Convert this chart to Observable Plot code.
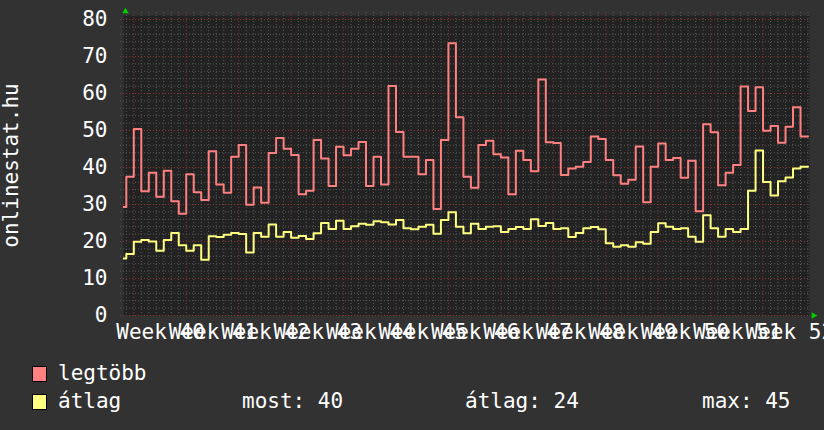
<!DOCTYPE html>
<html><head><meta charset="utf-8">
<script src="https://cdn.jsdelivr.net/npm/d3@7"></script>
<script src="https://cdn.jsdelivr.net/npm/@observablehq/plot@0.6"></script>
<style>
html,body{margin:0;padding:0;background:#323232;}
#wrap{position:relative;width:824px;height:430px;background:#323232;overflow:hidden;font-family:"DejaVu Sans Mono",monospace;color:#fff;}
#chart{position:absolute;left:0;top:0;}
.lg{position:absolute;font-size:21px;line-height:21px;white-space:pre;color:#fff;}
.box{position:absolute;width:13px;height:14px;border:1px solid #000;}
</style></head>
<body><div id="wrap"><div id="chart"></div></div>
<script>
// Day offset of the first value, counted from the Monday that starts Week 40
const firstDay = -2;
const weekNumbers = [40, 41, 42, 43, 44, 45, 46, 47, 48, 49, 50, 51, 52];
const yTicks = [0, 10, 20, 30, 40, 50, 60, 70, 80];
const yAxisLabel = "onlinestat.hu";
const seriesNames = ["legtöbb", "átlag"];
const stats = {most: 40, atlag: 24, max: 45};

// daily maxima ("legtöbb")
const legtobb = [29.3, 37.5, 50.4, 33.6, 38.6, 32.1, 39.1, 30.9, 27.5, 38.2,
  33.3, 31.2, 44.4, 35.4, 33.2, 42.9, 46.1, 29.9, 34.6, 30.5,
  43.9, 48.0, 45.1, 43.4, 32.8, 33.7, 47.4, 42.4, 35.0, 45.6,
  43.3, 45.1, 46.9, 35.0, 42.9, 35.4, 62.0, 49.6, 42.9, 42.9,
  38.2, 42.0, 28.8, 47.4, 73.6, 53.6, 37.5, 34.5, 46.1, 47.2,
  43.6, 42.7, 32.8, 44.5, 42.0, 39.0, 63.8, 46.8, 46.6, 38.0,
  39.7, 40.2, 41.5, 48.4, 47.7, 42.0, 37.9, 35.6, 36.7, 45.7,
  30.6, 40.2, 46.5, 42.0, 42.6, 37.2, 41.8, 28.2, 51.7, 49.5,
  35.2, 38.6, 40.7, 61.9, 55.3, 61.7, 49.9, 51.2, 46.7, 51.0,
  56.3, 48.4];
// daily averages ("átlag")
const atlag = [15.4, 16.6, 19.9, 20.4, 20.0, 17.5, 20.4, 22.3, 19.0, 17.5,
  19.0, 15.1, 21.4, 21.2, 21.8, 22.3, 22.0, 17.0, 22.3, 21.3,
  24.6, 21.3, 22.6, 21.0, 21.5, 20.7, 22.2, 25.0, 23.4, 25.6,
  23.4, 24.1, 24.8, 24.5, 25.5, 25.2, 24.6, 25.8, 23.6, 23.3,
  24.0, 24.5, 22.1, 25.8, 27.9, 24.0, 22.2, 24.8, 23.4, 24.0,
  24.1, 22.6, 23.4, 23.9, 23.4, 26.0, 24.2, 25.0, 23.4, 23.6,
  21.2, 22.3, 23.6, 23.9, 23.3, 19.5, 18.6, 19.0, 18.6, 19.8,
  19.4, 22.6, 24.9, 24.0, 23.4, 23.6, 21.3, 19.9, 27.1, 23.6,
  21.3, 23.4, 22.6, 23.4, 33.7, 44.6, 36.1, 32.4, 36.3, 37.3,
  39.7, 40.2];

const colors = {legtobb: "#ff8080", atlag: "#ffff80"};

function toSteps(values) {
  const rows = values.map((v, i) => ({day: firstDay + i, v}));
  rows.push({day: firstDay + values.length, v: values[values.length - 1]});
  return rows;
}
const redRows = toSteps(legtobb);
const yelRows = toSteps(atlag);

const xDomain = [-1.375, 90.2];
const yDomain = [0, 81.08];

const dayLines = d3.range(Math.ceil(xDomain[0]), Math.floor(xDomain[1]) + 1);
const weekStarts = weekNumbers.map((w, i) => i * 7);
const weekMids = weekNumbers.map((w, i) => i * 7 + 3.5);
const weekLabel = new Map(weekMids.map((m, i) => [m, "Week " + weekNumbers[i]]));
const minorY = d3.range(0, 81, 2).filter(v => v % 10 !== 0);
const minorX = dayLines.filter(d => !weekStarts.includes(d));

const chart = Plot.plot({
  width: 824,
  height: 345,
  marginLeft: 123,
  marginRight: 15,
  marginTop: 15,
  marginBottom: 30,
  style: {background: "#323232", color: "#ffffff", fontFamily: "DejaVu Sans Mono", fontSize: "21px"},
  x: {type: "linear", domain: xDomain},
  y: {domain: yDomain},
  marks: [
    Plot.frame({fill: "#222222", stroke: null}),
    Plot.ruleX(minorX, {stroke: "#585858", strokeDasharray: "1,2", insetTop: -3}),
    Plot.ruleY(minorY, {stroke: "#585858", strokeDasharray: "1,2", insetLeft: -3}),
    Plot.ruleX(weekStarts, {stroke: "#8c3434", strokeDasharray: "1,2", insetTop: -3, insetBottom: -3}),
    Plot.ruleY(yTicks, {stroke: "#8c3434", strokeDasharray: "1,2", insetLeft: -3}),
    Plot.line(yelRows, {x: "day", y: "v", curve: "step-after", stroke: colors.atlag, strokeWidth: 2, clip: true}),
    Plot.line(redRows, {x: "day", y: "v", curve: "step-after", stroke: colors.legtobb, strokeWidth: 2, clip: true}),
    Plot.axisY({ticks: yTicks, tickSize: 0, tickPadding: 16, fontSize: 21, fill: "#ffffff", label: null}),
    Plot.axisX({ticks: weekMids, tickFormat: d => weekLabel.get(d), tickSize: 0, tickPadding: 9, dx: 0.5, fontSize: 21, fill: "#ffffff", label: null}),
    Plot.text([yAxisLabel], {frameAnchor: "left", textAnchor: "middle", dx: -112, rotate: -90, fill: "#ffffff", fontSize: 21}),
    Plot.dot([{x: xDomain[0], y: yDomain[1]}], {x: "x", y: "y", dx: 2, dy: -4, symbol: "triangle", r: 2.4, fill: "#00d000", stroke: null}),
    Plot.dot([{x: xDomain[1], y: yDomain[0]}], {x: "x", y: "y", dx: 4, symbol: "triangle", rotate: 90, r: 2.4, fill: "#00d000", stroke: null})
  ]
});
document.getElementById("chart").appendChild(chart);

// legend
const wrap = document.getElementById("wrap");
function addText(txt, left, baseline) {
  const s = document.createElement("div");
  s.className = "lg";
  s.textContent = txt;
  s.style.left = left + "px";
  s.style.top = (baseline - 17.8) + "px";
  wrap.appendChild(s);
}
function addBox(color, left, top) {
  const b = document.createElement("div");
  b.className = "box";
  b.style.left = left + "px";
  b.style.top = top + "px";
  b.style.background = color;
  wrap.appendChild(b);
}
addBox(colors.legtobb, 32, 366);
addText(seriesNames[0], 58, 380.7);
addBox(colors.atlag, 32, 394);
addText(seriesNames[1], 58, 408.3);
addText("most: " + stats.most, 242, 408.3);
addText("átlag: " + stats.atlag, 465, 408.3);
addText("max: " + stats.max, 702, 408.3);
</script>
</body></html>
